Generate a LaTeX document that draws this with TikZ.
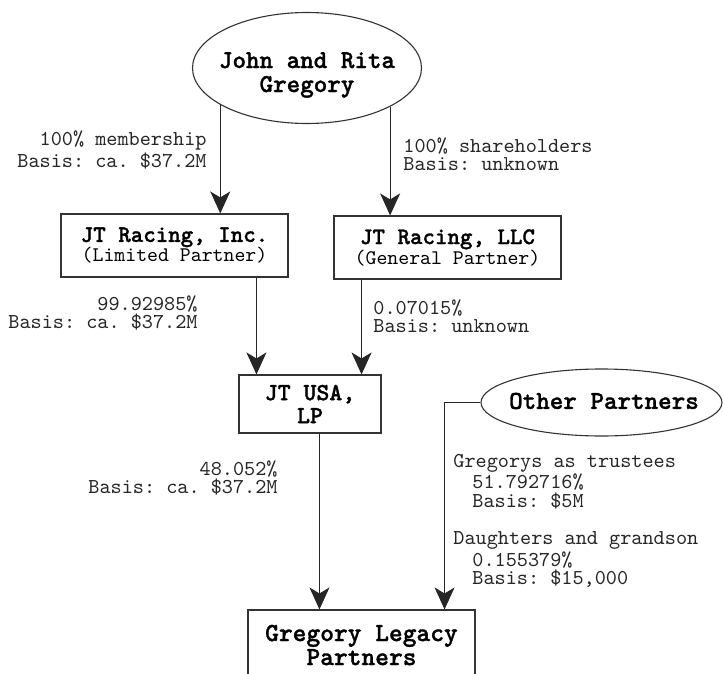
\documentclass[tikz,border=0pt]{standalone}
\usepackage{fontspec}
\newfontfamily\tbold[FakeBold=1.2]{lmmonolt10-bold.otf}
\usetikzlibrary{arrows.meta,shapes.geometric,calc}
\begin{document}
\frenchspacing
\begin{tikzpicture}[x=0.5pt,y=-0.5pt,
  conn/.style={draw=black!85, line width=0.55pt, -{Stealth[length=11pt,width=10pt,inset=3pt]}},
  boxnode/.style={draw=black!80, line width=0.55pt, rectangle, inner sep=0pt, align=center},
  oval/.style={draw=black!80, line width=0.55pt, ellipse, inner sep=0pt},
  ttl/.style={font=\tbold\fontsize{12.9}{12}\selectfont, align=center, inner sep=0pt},
  lbl/.style={font=\ttfamily\frenchspacing\fontsize{10.6}{9.25}\selectfont, inner sep=0pt, text=black!85},
]
\useasboundingbox (0,0) rectangle (723,674);

% nodes
\node[oval, minimum width=114.5pt, minimum height=55.5pt] (jr) at (307,68) {};
\node[ttl] (jrt) at (307,75) {John and Rita\\Gregory};

\node[boxnode, minimum width=113.5pt, minimum height=31.5pt,
  font=\ttfamily\fontsize{10.4}{10}\selectfont] (inc) at (174.5,245.5)
  {{\tbold\fontsize{11.9}{10}\selectfont JT Racing, Inc.}\\(Limited Partner)};
\node[boxnode, minimum width=113.5pt, minimum height=31.5pt,
  font=\ttfamily\fontsize{10.4}{10}\selectfont] (llc) at (447.5,247.5)
  {{\tbold\fontsize{11.9}{10}\selectfont JT Racing, LLC}\\(General Partner)};

\node[boxnode, minimum width=71pt, minimum height=29pt,
  font=\tbold\fontsize{12.3}{11.5}\selectfont] (usa) at (310,404)
  {JT USA,\\LP};

\node[oval, minimum width=120.5pt, minimum height=33.5pt] (oth) at (601.5,402.5) {};
\node[ttl] (otht) at (604,401) {Other Partners};

\node[boxnode, minimum width=113.5pt, minimum height=35pt,
  font=\tbold\fontsize{13.1}{12}\selectfont] (leg) at (361.5,645)
  {Gregory Legacy\\Partners};

% connectors
\draw[conn] (jr.203) -- (jr.203 |- inc.north);
\draw[conn] (jr.335) -- (jr.335 |- llc.north);

\coordinate (u1) at ($(usa.north west)+(18,0)$);
\coordinate (u2) at ($(usa.north east)+(-20,0)$);
\draw[conn] (inc.south -| u1) -- (u1);
\draw[conn] (llc.south -| u2) -- (u2);

\coordinate (g1) at ($(leg.north west)+(72,0)$);
\coordinate (g2) at ($(leg.north east)+(-31,0)$);
\draw[conn] (usa.south -| g1) -- (g1);
\draw[conn] (oth.west) -| (g2);

% labels
\node[lbl, anchor=east, align=right] (l1) at (207,150) {100\% membership\\Basis: ca. \$37.2M};
\node[lbl, anchor=west, align=left] (l2) at (403,154) {100\% shareholders\\Basis: unknown};
\node[lbl, anchor=east, align=right] (l3) at (198,313) {99.92985\%\\Basis: ca. \$37.2M};
\node[lbl, anchor=west, align=left] (l4) at (373,316) {0.07015\%\\Basis: unknown};
\node[lbl, anchor=east, align=right] (l5) at (278,478) {48.052\%\\Basis: ca. \$37.2M};
\node[lbl, anchor=west, align=left] (l6) at (453,521)
  {Gregorys as trustees\\\hspace*{9.5pt}51.792716\%\\\hspace*{9.5pt}Basis: \$5M\\[9.5pt]
   Daughters and grandson\\\hspace*{9.5pt}0.155379\%\\\hspace*{9.5pt}Basis: \$15,000};
\end{tikzpicture}
\end{document}
